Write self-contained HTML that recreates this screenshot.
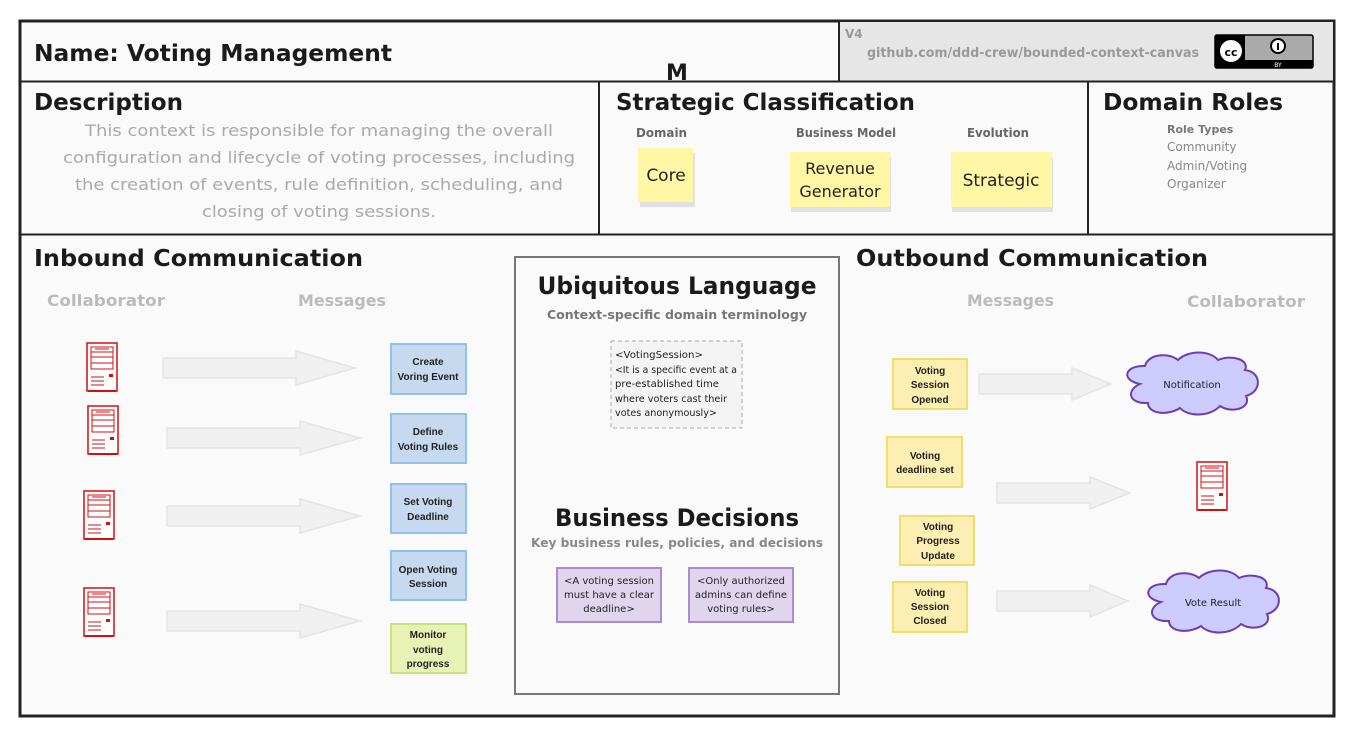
<!DOCTYPE html>
<html><head><meta charset="utf-8"><style>
html,body{margin:0;padding:0;background:#fff;}
svg{display:block;font-family:"DejaVu Sans","Liberation Sans",sans-serif;}
.h{font-weight:bold;fill:#1a1a1a;}
.g{fill:#999;font-weight:bold;}
</style></head><body>
<svg width="1357" height="736" viewBox="0 0 1357 736" xmlns="http://www.w3.org/2000/svg">
<defs>
<g id="srv">
<rect x="1" y="1" width="30" height="48" fill="#fff" stroke="#d01010" stroke-width="1.5"/>
<rect x="5" y="5" width="22" height="22" fill="none" stroke="#d01010" stroke-width="1"/>
<line x1="5" y1="10" x2="27" y2="10" stroke="#d01010"/>
<line x1="5" y1="15" x2="27" y2="15" stroke="#d01010"/>
<line x1="5" y1="21" x2="27" y2="21" stroke="#d01010"/>
<line x1="9" y1="7" x2="23" y2="7" stroke="#d01010"/>
<line x1="5" y1="35" x2="18" y2="35" stroke="#d01010"/>
<line x1="5" y1="39" x2="18" y2="39" stroke="#d01010"/>
<line x1="5" y1="43" x2="18" y2="43" stroke="#d01010"/>
<rect x="23" y="32" width="4" height="3" fill="#d01010"/>
<rect x="2" y="48" width="28" height="2" fill="#d01010"/>
</g>
</defs>
<rect x="20" y="21" width="1314" height="695" fill="#fafafa" stroke="#222" stroke-width="3"/>
<rect x="839" y="22" width="494" height="59" fill="#e6e6e6"/>
<line x1="839" y1="21" x2="839" y2="81" stroke="#222" stroke-width="2"/>
<line x1="20" y1="81.5" x2="1334" y2="81.5" stroke="#222" stroke-width="2"/>
<line x1="599" y1="81" x2="599" y2="234" stroke="#222" stroke-width="2"/>
<line x1="1088" y1="81" x2="1088" y2="234" stroke="#222" stroke-width="2"/>
<line x1="20" y1="234.5" x2="1334" y2="234.5" stroke="#222" stroke-width="2"/>
<rect x="515" y="257" width="324" height="437" fill="none" stroke="#777" stroke-width="2"/>

<text x="34" y="61" class="h" font-size="23" textLength="358" lengthAdjust="spacingAndGlyphs">Name: Voting Management</text>
<text x="845" y="38" class="g" font-size="12">V4</text>
<text x="867" y="57" class="g" font-size="13" textLength="332" lengthAdjust="spacingAndGlyphs">github.com/ddd-crew/bounded-context-canvas</text>
<rect x="1215" y="35" width="98" height="33" rx="2" fill="#aaa" stroke="#000" stroke-width="1.5"/>
<rect x="1215" y="60" width="98" height="8" fill="#000"/>
<rect x="1215" y="35" width="30" height="33" fill="#000"/>
<circle cx="1231" cy="51" r="12" fill="#fff" stroke="#000" stroke-width="2"/>
<text x="1231" y="56" font-size="11" font-weight="bold" text-anchor="middle">cc</text>
<circle cx="1278" cy="46" r="7" fill="#fff" stroke="#000" stroke-width="2"/>
<rect x="1277" y="43" width="2" height="7" fill="#000"/>
<text x="1278" y="67" font-size="6" fill="#fff" text-anchor="middle">BY</text>
<text x="677" y="80" class="h" font-size="22" text-anchor="middle">M</text>

<text x="34" y="110" class="h" font-size="23" textLength="149" lengthAdjust="spacingAndGlyphs">Description</text>
<g font-size="16" fill="#aaa" text-anchor="middle">
<text x="319" y="136" textLength="468" lengthAdjust="spacingAndGlyphs">This context is responsible for managing the overall</text>
<text x="319" y="163" textLength="512" lengthAdjust="spacingAndGlyphs">configuration and lifecycle of voting processes, including</text>
<text x="319" y="190" textLength="488" lengthAdjust="spacingAndGlyphs">the creation of events, rule definition, scheduling, and</text>
<text x="319" y="217" textLength="234" lengthAdjust="spacingAndGlyphs">closing of voting sessions.</text>
</g>
<text x="616" y="110" class="h" font-size="23" textLength="299" lengthAdjust="spacingAndGlyphs">Strategic Classification</text>
<g font-size="12" font-weight="bold" fill="#666">
<text x="636" y="137" textLength="51" lengthAdjust="spacingAndGlyphs">Domain</text>
<text x="796" y="137" textLength="100" lengthAdjust="spacingAndGlyphs">Business Model</text>
<text x="967" y="137" textLength="62" lengthAdjust="spacingAndGlyphs">Evolution</text>
</g>
<rect x="640" y="153" width="55" height="54" fill="#999" opacity=".25"/>
<rect x="638" y="148" width="55" height="54" fill="#fff7a6"/>
<text x="666" y="181" font-size="17" text-anchor="middle" fill="#222">Core</text>
<rect x="791" y="157" width="100" height="55" fill="#999" opacity=".25"/>
<rect x="790" y="152" width="100" height="55" fill="#fff7a6"/>
<text x="840" y="174" font-size="16" text-anchor="middle" fill="#222">Revenue</text>
<text x="840" y="197" font-size="16" text-anchor="middle" fill="#222">Generator</text>
<rect x="952" y="157" width="101" height="55" fill="#999" opacity=".25"/>
<rect x="951" y="152" width="101" height="55" fill="#fff7a6"/>
<text x="1001" y="186" font-size="17" text-anchor="middle" fill="#222">Strategic</text>

<text x="1103" y="110" class="h" font-size="23" textLength="180" lengthAdjust="spacingAndGlyphs">Domain Roles</text>
<text x="1167" y="133" font-size="11" font-weight="bold" fill="#777">Role Types</text>
<g font-size="12" fill="#888">
<text x="1167" y="151">Community</text>
<text x="1167" y="170">Admin/Voting</text>
<text x="1167" y="188">Organizer</text>
</g>

<text x="34" y="266" class="h" font-size="23" textLength="329" lengthAdjust="spacingAndGlyphs">Inbound Communication</text>
<text x="47" y="306" font-weight="bold" font-size="16" fill="#bbb" textLength="118" lengthAdjust="spacingAndGlyphs">Collaborator</text>
<text x="298" y="306" font-weight="bold" font-size="16" fill="#bbb" textLength="88" lengthAdjust="spacingAndGlyphs">Messages</text>
<text x="856" y="266" class="h" font-size="23" textLength="352" lengthAdjust="spacingAndGlyphs">Outbound Communication</text>
<text x="967" y="306" font-weight="bold" font-size="16" fill="#bbb" textLength="87" lengthAdjust="spacingAndGlyphs">Messages</text>
<text x="1187" y="307" font-weight="bold" font-size="16" fill="#bbb" textLength="118" lengthAdjust="spacingAndGlyphs">Collaborator</text>

<text x="677" y="294" class="h" font-size="24" text-anchor="middle" textLength="279" lengthAdjust="spacingAndGlyphs">Ubiquitous Language</text>
<text x="677" y="319" font-size="12" font-weight="bold" fill="#777" text-anchor="middle" textLength="260" lengthAdjust="spacingAndGlyphs">Context-specific domain terminology</text>
<rect x="611" y="341" width="131" height="87" fill="#f4f4f4" stroke="#aaa" stroke-dasharray="4,3"/>
<g font-size="10" fill="#222">
<text x="615" y="358" textLength="88" lengthAdjust="spacingAndGlyphs">&lt;VotingSession&gt;</text>
<text x="615" y="373" textLength="122" lengthAdjust="spacingAndGlyphs">&lt;It is a specific event at a</text>
<text x="615" y="387" textLength="104" lengthAdjust="spacingAndGlyphs">pre-established time</text>
<text x="615" y="402" textLength="112" lengthAdjust="spacingAndGlyphs">where voters cast their</text>
<text x="615" y="416" textLength="102" lengthAdjust="spacingAndGlyphs">votes anonymously&gt;</text>
</g>
<text x="677" y="526" class="h" font-size="24" text-anchor="middle" textLength="244" lengthAdjust="spacingAndGlyphs">Business Decisions</text>
<text x="677" y="547" font-size="12" font-weight="bold" fill="#888" text-anchor="middle" textLength="292" lengthAdjust="spacingAndGlyphs">Key business rules, policies, and decisions</text>
<rect x="557" y="568" width="104" height="54" fill="#e1d5ee" stroke="#a98dd0" stroke-width="2"/>
<rect x="689" y="568" width="104" height="54" fill="#e1d5ee" stroke="#a98dd0" stroke-width="2"/>
<g font-size="10" fill="#222" text-anchor="middle">
<text x="609" y="584">&lt;A voting session</text>
<text x="609" y="598">must have a clear</text>
<text x="609" y="612">deadline&gt;</text>
<text x="741" y="584">&lt;Only authorized</text>
<text x="741" y="598">admins can define</text>
<text x="741" y="612">voting rules&gt;</text>
</g>

<g fill="#f0f0f0" stroke="#e4e4e4" stroke-width="1.5">
<polygon points="163,358 296,358 296,351 355,368 296,385 296,378 163,378"/>
<polygon points="167,428 300,428 300,421 360,438 300,455 300,448 167,448"/>
<polygon points="167,506 300,506 300,499 360,516 300,533 300,526 167,526"/>
<polygon points="167,611 300,611 300,604 360,621 300,638 300,631 167,631"/>
<polygon points="979,374 1072,374 1072,368 1111,384 1072,400 1072,394 979,394"/>
<polygon points="997,483 1090,483 1090,477 1130,493 1090,509 1090,503 997,503"/>
<polygon points="997,591 1090,591 1090,585 1128,601 1090,617 1090,611 997,611"/>
</g>

<use href="#srv" x="86" y="342"/>
<use href="#srv" x="87" y="405"/>
<use href="#srv" x="83" y="490"/>
<use href="#srv" x="83" y="587"/>
<use href="#srv" x="1196" y="461"/>

<g stroke-width="2">
<rect x="391" y="344" width="75" height="50" fill="#c6d9ef" stroke="#8fc1ea"/>
<rect x="391" y="414" width="75" height="49" fill="#c6d9ef" stroke="#8fc1ea"/>
<rect x="391" y="484" width="75" height="49" fill="#c6d9ef" stroke="#8fc1ea"/>
<rect x="391" y="551" width="75" height="49" fill="#c6d9ef" stroke="#8fc1ea"/>
<rect x="391" y="624" width="75" height="49" fill="#e7f3b5" stroke="#c8e27e"/>
<rect x="893" y="359" width="74" height="50" fill="#fcefb1" stroke="#f5db6c"/>
<rect x="887" y="437" width="75" height="50" fill="#fcefb1" stroke="#f5db6c"/>
<rect x="900" y="516" width="74" height="49" fill="#fcefb1" stroke="#f5db6c"/>
<rect x="893" y="582" width="74" height="50" fill="#fcefb1" stroke="#f5db6c"/>
</g>
<g font-size="10" font-weight="bold" fill="#222" text-anchor="middle" font-family="Liberation Sans, sans-serif">
<text x="428" y="365">Create</text><text x="428" y="380">Voring Event</text>
<text x="428" y="435">Define</text><text x="428" y="450">Voting Rules</text>
<text x="428" y="505">Set Voting</text><text x="428" y="520">Deadline</text>
<text x="428" y="573">Open Voting</text><text x="428" y="587">Session</text>
<text x="428" y="638">Monitor</text><text x="428" y="653">voting</text><text x="428" y="667">progress</text>
<text x="930" y="374">Voting</text><text x="930" y="388">Session</text><text x="930" y="403">Opened</text>
<text x="925" y="459">Voting</text><text x="925" y="473">deadline set</text>
<text x="938" y="530">Voting</text><text x="938" y="544">Progress</text><text x="938" y="559">Update</text>
<text x="930" y="596">Voting</text><text x="930" y="610">Session</text><text x="930" y="624">Closed</text>
</g>

<g fill="#ccccff" stroke="#6c3fb0" stroke-width="2">
<path d="M1140,384 C1120,380 1125,365 1145,366 C1148,354 1168,352 1178,360 C1188,350 1210,350 1218,360 C1232,354 1250,360 1245,370 C1262,372 1262,392 1246,396 C1252,408 1232,414 1220,406 C1210,417 1188,417 1180,408 C1168,416 1148,414 1148,403 C1128,404 1126,390 1140,384 Z"/>
<path d="M1161,602 C1141,598 1146,583 1166,584 C1169,572 1189,570 1199,578 C1209,568 1231,568 1239,578 C1253,572 1271,578 1266,588 C1283,590 1283,610 1267,614 C1273,626 1253,632 1241,624 C1231,635 1209,635 1201,626 C1189,634 1169,632 1169,621 C1149,622 1147,608 1161,602 Z"/>
</g>
<text x="1192" y="388" font-size="10" fill="#222" text-anchor="middle">Notification</text>
<text x="1213" y="606" font-size="10" fill="#222" text-anchor="middle">Vote Result</text>
</svg>
</body></html>
